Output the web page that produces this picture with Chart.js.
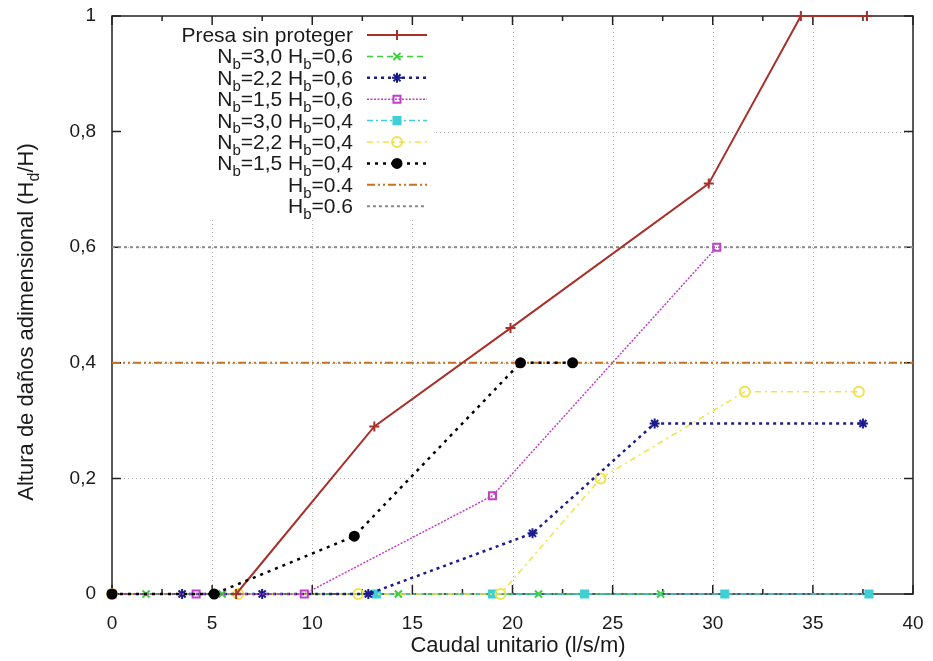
<!DOCTYPE html>
<html>
<head>
<meta charset="utf-8">
<script src="https://cdn.jsdelivr.net/npm/chart.js@4.4.0/dist/chart.umd.min.js"></script>
<style>
html, body { margin: 0; padding: 0; background: #fff; }
#wrap { width: 933px; height: 661px; position: relative; }
</style>
</head>
<body>
<div id="wrap"><canvas id="grafico"></canvas></div>
<script>
// nombres de las series (el "_" marca subindice)
var nombres = ['Presa sin proteger', 'N_b=3,0 H_b=0,6', 'N_b=2,2 H_b=0,6', 'N_b=1,5 H_b=0,6',
    'N_b=3,0 H_b=0,4', 'N_b=2,2 H_b=0,4', 'N_b=1,5 H_b=0,4', 'H_b=0.4', 'H_b=0.6'];

// caudal unitario (l/s/m) y altura de daños (Hd/H) de cada serie
var presaX = [6.2, 13.1, 19.9, 29.8, 34.4, 37.7];
var presaY = [0, 0.29, 0.46, 0.71, 1, 1];
var n30h06X = [1.7, 5.5, 14.3, 21.3, 27.4];
var n30h06Y = [0, 0, 0, 0, 0];
var n22h06X = [3.5, 7.5, 12.8, 21.0, 27.1, 37.5];
var n22h06Y = [0, 0, 0, 0.105, 0.295, 0.295];
var n15h06X = [0, 4.2, 9.6, 19.0, 30.2];
var n15h06Y = [0, 0, 0, 0.17, 0.6];
var n30h04X = [13.2, 19.0, 23.6, 30.6, 37.8];
var n30h04Y = [0, 0, 0, 0, 0];
var n22h04X = [0, 6.3, 12.3, 19.4, 24.4, 31.6, 37.3];
var n22h04Y = [0, 0, 0, 0, 0.2, 0.35, 0.35];
var n15h04X = [0, 5.1, 12.1, 20.4, 23.0];
var n15h04Y = [0, 0, 0.1, 0.4, 0.4];
var hb04X = [0, 40];
var hb04Y = [0.4, 0.4];
var hb06X = [0, 40];
var hb06Y = [0.6, 0.6];

var ticksX = [0, 5, 10, 15, 20, 25, 30, 35, 40];
var ticksY = ['0', '0,2', '0,4', '0,6', '0,8', '1'];

var FUENTE = "'Liberation Sans', Arial, sans-serif";

function puntos(xs, ys) {
    return xs.map(function (x, i) { return { x: x, y: ys[i] }; });
}

function serie(i, xs, ys, color, dash, ancho, estilo, radio, relleno, orden) {
    return {
        label: nombres[i],
        data: puntos(xs, ys),
        showLine: true,
        borderColor: color,
        backgroundColor: relleno ? color : 'rgba(0,0,0,0)',
        borderWidth: ancho,
        borderDash: dash,
        pointStyle: estilo,
        pointRadius: radio,
        pointBorderWidth: 2,
        pointBorderColor: color,
        pointBackgroundColor: relleno ? color : 'rgba(0,0,0,0)',
        tension: 0,
        clip: false,
        order: orden
    };
}

var datasets = [
    serie(0, presaX, presaY, '#a8302a', [], 2, 'cross', 5, false, 3),
    serie(1, n30h06X, n30h06Y, '#3ccf3c', [6, 4], 1.5, 'crossRot', 5, false, 8),
    serie(2, n22h06X, n22h06Y, '#1c1c8c', [3, 4], 2.5, 'star', 5, false, 5),
    serie(3, n15h06X, n15h06Y, '#c23fc8', [2, 1.5], 1.5, 'rect', 5, false, 4),
    serie(4, n30h04X, n30h04Y, '#3fcfd6', [6, 3, 2, 3], 1.5, 'rect', 5, true, 7),
    serie(5, n22h04X, n22h04Y, '#eee34a', [6, 4, 2, 4], 1.5, 'circle', 5, false, 6),
    serie(6, n15h04X, n15h04Y, '#000000', [3, 5], 2.5, 'circle', 4.5, true, 1),
    serie(7, hb04X, hb04Y, '#c9711f', [8, 3, 2, 3, 2, 3], 2, 'circle', 0, false, 9),
    serie(8, hb06X, hb06Y, '#8a8a8a', [3, 3], 2, 'circle', 0, false, 10)
];

function partes(s) {
    var out = [], buf = '';
    for (var i = 0; i < s.length; i++) {
        if (s[i] === '_') {
            if (buf) out.push({ t: buf, sub: false });
            buf = '';
            out.push({ t: s[i + 1], sub: true });
            i++;
        } else {
            buf += s[i];
        }
    }
    if (buf) out.push({ t: buf, sub: false });
    return out;
}

function anchoRico(ctx, p, size) {
    var w = 0;
    p.forEach(function (q) {
        ctx.font = (q.sub ? Math.round(size * 0.72) : size) + 'px ' + FUENTE;
        w += ctx.measureText(q.t).width;
    });
    return w;
}

function dibujaRico(ctx, p, x, y, size) {
    ctx.textBaseline = 'alphabetic';
    ctx.textAlign = 'left';
    p.forEach(function (q) {
        ctx.font = (q.sub ? Math.round(size * 0.72) : size) + 'px ' + FUENTE;
        ctx.fillText(q.t, x, q.sub ? y + size * 0.28 : y);
        x += ctx.measureText(q.t).width;
    });
}

function marcador(ctx, ds, x, y) {
    ctx.save();
    ctx.setLineDash([]);
    ctx.lineWidth = ds.pointBorderWidth;
    ctx.strokeStyle = ds.pointBorderColor;
    ctx.fillStyle = ds.pointBackgroundColor;
    Chart.helpers.drawPoint(ctx, { pointStyle: ds.pointStyle, radius: ds.pointRadius, borderWidth: ds.pointBorderWidth, rotation: 0 }, x, y);
    ctx.restore();
}

// quita el margen extra que Chart.js reserva para las etiquetas de los extremos
function sinMargen(s) {
    s.paddingTop = 0;
    s.paddingBottom = 0;
    s.paddingLeft = 0;
    s.paddingRight = 0;
}

var marco = {
    id: 'marco',
    beforeDatasetsDraw: function (chart) {
        var ctx = chart.ctx, a = chart.chartArea, sx = chart.scales.x, sy = chart.scales.y;
        ctx.save();
        // rejilla punteada
        ctx.strokeStyle = '#b5b5b5';
        ctx.lineWidth = 1;
        ctx.setLineDash([1, 3]);
        sx.ticks.forEach(function (t) {
            if (t.value <= sx.min || t.value >= sx.max) return;
            var px = Math.round(sx.getPixelForValue(t.value)) + 0.5;
            ctx.beginPath(); ctx.moveTo(px, a.top); ctx.lineTo(px, a.bottom); ctx.stroke();
        });
        sy.ticks.forEach(function (t) {
            if (t.value <= sy.min || t.value >= sy.max) return;
            var py = Math.round(sy.getPixelForValue(t.value)) + 0.5;
            ctx.beginPath(); ctx.moveTo(a.left, py); ctx.lineTo(a.right, py); ctx.stroke();
        });
        // fondo de la leyenda
        ctx.fillStyle = '#fff';
        ctx.fillRect(a.left + 2, a.top + 2, 322, 202);
        // marco y marcas hacia dentro
        ctx.setLineDash([]);
        ctx.strokeStyle = '#222';
        ctx.lineWidth = 1.5;
        ctx.strokeRect(a.left, a.top, a.right - a.left, a.bottom - a.top);
        ctx.beginPath();
        sx.ticks.forEach(function (t, i) {
            var px = sx.getPixelForValue(t.value);
            ctx.moveTo(px, a.bottom); ctx.lineTo(px, a.bottom - 9);
            ctx.moveTo(px, a.top); ctx.lineTo(px, a.top + 9);
            if (i < sx.ticks.length - 1) {
                var pm = sx.getPixelForValue((t.value + sx.ticks[i + 1].value) / 2);
                ctx.moveTo(pm, a.bottom); ctx.lineTo(pm, a.bottom - 5);
                ctx.moveTo(pm, a.top); ctx.lineTo(pm, a.top + 5);
            }
        });
        sy.ticks.forEach(function (t) {
            var py = sy.getPixelForValue(t.value);
            ctx.moveTo(a.left, py); ctx.lineTo(a.left + 9, py);
            ctx.moveTo(a.right, py); ctx.lineTo(a.right - 9, py);
        });
        ctx.stroke();
        ctx.restore();
    },
    afterDatasetsDraw: function (chart) {
        var ctx = chart.ctx;
        ctx.save();
        ctx.fillStyle = '#1a1a1a';
        // leyenda
        var size = 21;
        chart.data.datasets.forEach(function (ds, i) {
            var cy = 35 + i * 21.4;
            var p = partes(ds.label);
            var w = anchoRico(ctx, p, size);
            ctx.fillStyle = '#1a1a1a';
            dibujaRico(ctx, p, 353 - w, cy + 7, size);
            ctx.save();
            ctx.strokeStyle = ds.borderColor;
            ctx.lineWidth = ds.borderWidth;
            ctx.setLineDash(ds.borderDash);
            ctx.beginPath(); ctx.moveTo(367, cy); ctx.lineTo(427, cy); ctx.stroke();
            ctx.restore();
            if (ds.pointRadius > 0) marcador(ctx, ds, 397, cy);
        });
        // titulos de los ejes
        var tx = partes('Caudal unitario (l/s/m)');
        dibujaRico(ctx, tx, 518 - anchoRico(ctx, tx, 22) / 2, 652, 22);
        var ty = partes('Altura de daños adimensional (H_d/H)');
        ctx.translate(33, 322);
        ctx.rotate(-Math.PI / 2);
        dibujaRico(ctx, ty, -anchoRico(ctx, ty, 22) / 2, 0, 22);
        ctx.restore();
    }
};

var ctxGrafico = document.getElementById('grafico').getContext('2d');

new Chart(ctxGrafico, {
    type: 'scatter',
    data: { datasets: datasets },
    options: {
        responsive: true,
        maintainAspectRatio: false,
        animation: false,
        devicePixelRatio: 1,
        layout: { padding: { top: 16, right: 20, left: 0, bottom: 0 } },
        plugins: { legend: { display: false }, tooltip: { enabled: false } },
        scales: {
            x: {
                type: 'linear',
                min: 0,
                max: 40,
                afterFit: function (s) { s.height = 67; sinMargen(s); },
                afterBuildTicks: function (s) {
                    s.ticks = ticksX.map(function (v) { return { value: v }; });
                },
                grid: { display: false, drawTicks: false },
                border: { display: false },
                ticks: {
                    padding: 18,
                    color: '#1a1a1a',
                    font: { family: FUENTE, size: 19 },
                    maxRotation: 0,
                    autoSkip: false
                }
            },
            y: {
                min: 0,
                max: 1,
                afterFit: function (s) { s.width = 112; sinMargen(s); },
                afterBuildTicks: function (s) {
                    s.ticks = ticksY.map(function (t, i) { return { value: i * 0.2 }; });
                },
                grid: { display: false, drawTicks: false },
                border: { display: false },
                ticks: {
                    padding: 16,
                    color: '#1a1a1a',
                    font: { family: FUENTE, size: 19 },
                    autoSkip: false,
                    callback: function (v, i) { return ticksY[i]; }
                }
            }
        }
    },
    plugins: [marco]
});
</script>
</body>
</html>
